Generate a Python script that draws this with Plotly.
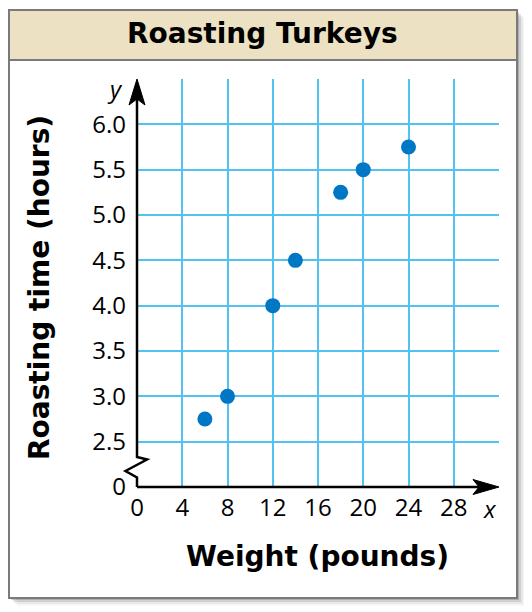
import plotly.graph_objects as go

# ---- data ----
weight_lb = [6, 8, 12, 14, 18, 20, 24]
roast_hours = [2.75, 3.0, 4.0, 4.5, 5.25, 5.5, 5.75]

x_tickvals = [0, 4, 8, 12, 16, 20, 24, 28, 32]
x_ticktext = ["0", "4", "8", "12", "16", "20", "24", "28", ""]
y_tickvals = [2.0, 2.5, 3.0, 3.5, 4.0, 4.5, 5.0, 5.5, 6.0, 6.5]
y_ticktext = ["0", "2.5", "3.0", "3.5", "4.0", "4.5", "5.0", "5.5", "6.0", ""]

title_text = "Roasting Turkeys"
x_title = "Weight (pounds)"
y_title = "Roasting time (hours)"

# ---- layout geometry (figure pixels) ----
W, H = 532, 612
L, T = 129, 71
PW, PH = 362, 408
R, B = W - L - PW, H - T - PH
X0, X1 = 0, 32
Y0, Y1 = 2.0, 6.5


def px(xp):
    return (xp - L) / PW


def py(yp):
    return 1 - (yp - T) / PH


def xd(v, dpx=0.0):
    """data x -> paper, with optional pixel offset"""
    return (v - X0) / (X1 - X0) + dpx / PW


def yd(v, dpx=0.0):
    """data y -> paper, with optional pixel offset (positive = up)"""
    return (v - Y0) / (Y1 - Y0) + dpx / PH


def path(points):
    return "M " + " L ".join(f"{a:.5f},{b:.5f}" for a, b in points)


FONT = "Open Sans"
TFONT = "DejaVu Sans"
GRID = "#52C3F1"
BLUE = "#0077C5"

fig = go.Figure()

fig.add_trace(go.Scatter(
    x=weight_lb, y=roast_hours, mode="markers",
    marker=dict(size=15, color=BLUE, line=dict(width=0)),
    hoverinfo="x+y", showlegend=False,
))

shapes = []
# drop shadow
for off, op in [(2, 0.16), (4, 0.10), (6, 0.06), (8, 0.03)]:
    shapes.append(dict(type="rect", xref="paper", yref="paper",
                       x0=px(1 + off), x1=px(509 + off), y0=py(590 + off), y1=py(2 + off),
                       line=dict(width=0), fillcolor=f"rgba(0,0,0,{op})", layer="below"))
# white card
shapes.append(dict(type="rect", xref="paper", yref="paper",
                   x0=px(1), x1=px(509), y0=py(590), y1=py(2),
                   line=dict(color="#7a7a7a", width=2), fillcolor="white", layer="below"))
# title band
shapes.append(dict(type="rect", xref="paper", yref="paper",
                   x0=px(1), x1=px(509), y0=py(52), y1=py(2),
                   line=dict(color="#7a7a7a", width=2), fillcolor="#EDE1C3", layer="below"))

# hide grid at x=0 in the axis break
shapes.append(dict(type="rect", xref="paper", yref="paper",
                   x0=xd(0, -2), x1=xd(0, 2), y0=yd(2.0, 2), y1=yd(2.5, -2),
                   line=dict(width=0), fillcolor="white", layer="above"))
# y axis with break (zigzag)
shapes.append(dict(type="path", xref="paper", yref="paper",
                   path=path([(xd(0), yd(6.5, -6)), (xd(0), yd(2.0, 30)),
                              (xd(0, 10), yd(2.0, 27.5)), (xd(0, -11.5), yd(2.0, 16)),
                              (xd(0), yd(2.0, 9.5)), (xd(0), yd(2.0))]),
                   line=dict(color="black", width=2.5), layer="above"))
# x axis
shapes.append(dict(type="line", xref="paper", yref="paper",
                   x0=xd(0), x1=xd(32, -8), y0=yd(2.0), y1=yd(2.0),
                   line=dict(color="black", width=2.5), layer="above"))
# y arrowhead
shapes.append(dict(type="path", xref="paper", yref="paper",
                   path=path([(xd(0), yd(6.5)), (xd(0, -8), yd(6.5, -26)),
                              (xd(0), yd(6.5, -20)), (xd(0, 8), yd(6.5, -26))]) + " Z",
                   line=dict(color="black", width=1), fillcolor="black", layer="above"))
# x arrowhead
shapes.append(dict(type="path", xref="paper", yref="paper",
                   path=path([(xd(32), yd(2.0)), (xd(32, -26), yd(2.0, 7.5)),
                              (xd(32, -20), yd(2.0)), (xd(32, -26), yd(2.0, -7.5))]) + " Z",
                   line=dict(color="black", width=1), fillcolor="black", layer="above"))

annotations = [
    dict(text=f"<b>{title_text}</b>", xref="paper", yref="paper", x=px(254.5), y=py(26),
         showarrow=False, font=dict(family=TFONT, size=28, color="black"),
         xanchor="center", yanchor="middle"),
    dict(text=f"<b>{x_title}</b>", xref="paper", yref="paper", x=px(309), y=py(548),
         showarrow=False, font=dict(family=TFONT, size=28, color="black"),
         xanchor="center", yanchor="middle"),
    dict(text=f"<b>{y_title}</b>", xref="paper", yref="paper", x=px(31), y=py(280),
         showarrow=False, textangle=-90, font=dict(family=TFONT, size=28, color="black"),
         xanchor="center", yanchor="middle"),
    dict(text="<i>y</i>", xref="paper", yref="paper", x=px(107), y=py(80),
         showarrow=False, font=dict(family=FONT, size=24, color="black"),
         xanchor="center", yanchor="middle"),
    dict(text="<i>x</i>", xref="paper", yref="paper", x=px(482), y=py(500),
         showarrow=False, font=dict(family=FONT, size=24, color="black"),
         xanchor="center", yanchor="middle"),
]

fig.update_layout(
    width=W, height=H,
    margin=dict(l=L, r=R, t=T, b=B, pad=0),
    paper_bgcolor="white", plot_bgcolor="rgba(0,0,0,0)",
    shapes=shapes, annotations=annotations,
    font=dict(family=FONT, size=24, color="black"),
    xaxis=dict(range=[X0, X1], tickvals=x_tickvals, ticktext=x_ticktext,
               showgrid=True, gridcolor=GRID, gridwidth=1.5, zeroline=False,
               showline=False, ticks="", ticklabelstandoff=4, fixedrange=True),
    yaxis=dict(range=[Y0, Y1], tickvals=y_tickvals, ticktext=y_ticktext,
               showgrid=True, gridcolor=GRID, gridwidth=1.5, zeroline=False,
               showline=False, ticks="", ticklabelstandoff=10, fixedrange=True),
)

fig.write_html("out.html")
